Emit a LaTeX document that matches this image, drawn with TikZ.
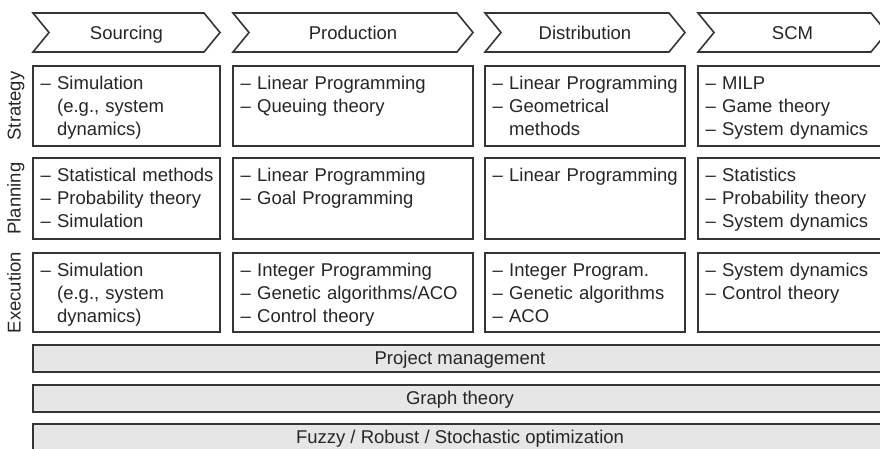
\documentclass[tikz,border=0pt]{standalone}
\usepackage{fontspec}
\setmainfont{Liberation Sans}

\definecolor{linec}{HTML}{353535}
\definecolor{textc}{HTML}{262626}
\definecolor{bandfill}{HTML}{E6E6E6}

\tikzset{
  frame/.style={draw=linec, line width=1.6pt, line join=miter},
  txt/.style={inner sep=0pt, text=textc, font=\fontsize{18.5}{23.3}\selectfont},
  item/.style={txt, anchor=base west, text width=300pt, align=left},
  head/.style={txt, anchor=base},
  rowlabel/.style={txt, anchor=base, rotate=90},
}

% one cell of the grid: name, x1, y1, x2, y2, list text
\newcommand\cellbox[6]{%
  \draw[frame, fill=white] (#2,#3) rectangle (#4,#5);
  \node[item] (#1) at (#2+7.5,#3+23) {#6};
}
% chevron heading of a column: name, x1, x2, title
\newcommand\stagehead[4]{%
  \draw[frame, fill=white] (#2,13) -- (#3-16,13) -- (#3,32.5) -- (#3-16,52)
    -- (#2,52) -- (#2+16,32.5) -- cycle;
  \node[head] (#1) at ({(#2+#3)/2},39) {#4};
}
% full-width band: name, y1, y2, text
\newcommand\bandbox[4]{%
  \draw[frame, fill=bandfill] (33,#2) rectangle (887,#3);
  \node[head] (#1) at (460,{(#2+#3)/2+5.5}) {#4};
}
\newcommand\ind{\hphantom{–\ }}

\begin{document}
\begin{tikzpicture}[x=1pt, y=-1pt]
  \useasboundingbox (0,0) rectangle (880,448);
  \clip (0,0) rectangle (880,448);

  % column headings
  \stagehead{hsrc}{33}{220}{Sourcing}
  \stagehead{hprod}{233}{473}{Production}
  \stagehead{hdist}{485}{685}{Distribution}
  \stagehead{hscm}{698}{887}{SCM}

  % row labels
  \node[rowlabel] (lstrat) at (20.5,106) {Strategy};
  \node[rowlabel] (lplan) at (20.5,198.5) {Planning};
  \node[rowlabel] (lexec) at (20.5,292.5) {Execution};

  % strategy row
  \cellbox{s1}{33}{66}{220}{146}{– Simulation\\\ind(e.g., system\\\ind dynamics)}
  \cellbox{s2}{233}{66}{473}{146}{– Linear Programming\\– Queuing theory}
  \cellbox{s3}{485}{66}{685}{146}{– Linear Programming\\– Geometrical\\\ind methods}
  \cellbox{s4}{698}{66}{887}{146}{– MILP\\– Game theory\\– System dynamics}

  % planning row
  \cellbox{p1}{33}{158}{220}{239}{– Statistical methods\\– Probability theory\\– Simulation}
  \cellbox{p2}{233}{158}{473}{239}{– Linear Programming\\– Goal Programming}
  \cellbox{p3}{485}{158}{685}{239}{– Linear Programming}
  \cellbox{p4}{698}{158}{887}{239}{– Statistics\\– Probability theory\\– System dynamics}

  % execution row
  \cellbox{e1}{33}{253}{220}{332}{– Simulation\\\ind(e.g., system\\\ind dynamics)}
  \cellbox{e2}{233}{253}{473}{332}{– Integer Programming\\– Genetic algorithms/ACO\\– Control theory}
  \cellbox{e3}{485}{253}{685}{332}{– Integer Program.\\– Genetic algorithms\\– ACO}
  \cellbox{e4}{698}{253}{887}{332}{– System dynamics\\– Control theory}

  % cross-cutting methods
  \bandbox{bpm}{345}{372}{Project management}
  \bandbox{bgt}{385}{412}{Graph theory}
  \bandbox{bfz}{424}{451}{Fuzzy / Robust / Stochastic optimization}
\end{tikzpicture}
\end{document}
